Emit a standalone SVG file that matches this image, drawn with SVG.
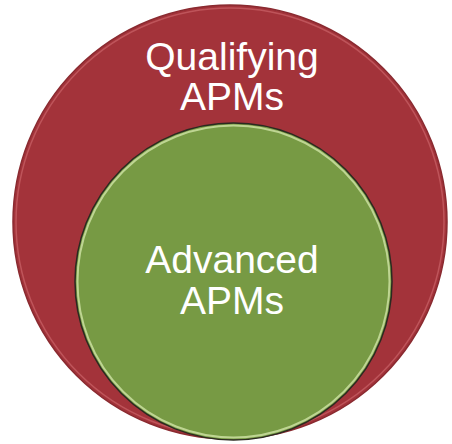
<svg xmlns="http://www.w3.org/2000/svg" width="452" height="444" viewBox="0 0 452 444">
<style>
.lbl{font-family:"Liberation Sans",Arial,sans-serif;font-size:39px;fill:#ffffff;text-anchor:middle}
</style>
<rect width="452" height="444" fill="#ffffff"/>
<g id="qualifying">
<circle cx="230" cy="222" r="217" fill="#A3333A" stroke="#8a2a30" stroke-width="1.5"/>
<circle cx="230" cy="222" r="214" fill="none" stroke="#d06a70" stroke-width="1.5" opacity="0.6"/>
<text class="lbl" x="232" y="70">Qualifying</text>
<text class="lbl" x="232" y="110">APMs</text>
</g>
<g id="advanced">
<circle cx="233.5" cy="281.5" r="158.5" fill="#779A44" stroke="#2a2a20" stroke-width="1.5"/>
<circle cx="233.5" cy="281.5" r="156" fill="none" stroke="#cfe3a6" stroke-width="2" opacity="0.8"/>
<text class="lbl" x="232" y="273">Advanced</text>
<text class="lbl" x="232" y="314">APMs</text>
</g>
<g id="connectors"/>
</svg>
